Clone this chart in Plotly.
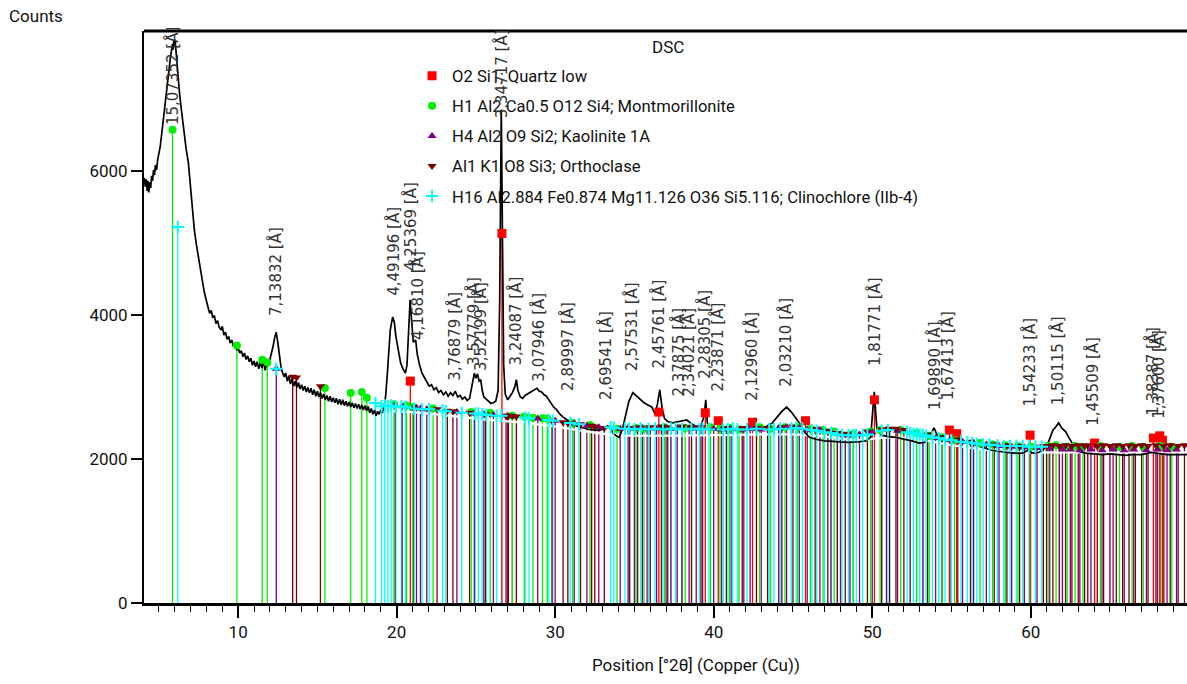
import plotly.graph_objects as go

# ---------------- measured diffractogram (2θ in degrees, counts) ----------------
scan_2theta = [
    4.08, 4.14, 4.20, 4.26, 4.31, 4.36, 4.42, 4.48, 4.54, 4.60, 4.66, 4.72, 4.78, 4.85, 4.92,
    5.00, 5.08, 5.16, 5.24, 5.32, 5.40, 5.48, 5.56, 5.64, 5.72, 5.80, 5.86, 5.90, 5.94, 5.98,
    6.02, 6.08, 6.14, 6.20, 6.30, 6.40, 6.50, 6.60, 6.72, 6.86, 7.00, 7.12, 7.24, 7.36, 7.48,
    7.60, 7.72, 7.85, 7.98, 8.11, 8.20, 8.30, 8.40, 8.50, 8.60, 8.70, 8.80, 8.93, 9.00, 9.10,
    9.20, 9.30, 9.40, 9.50, 9.60, 9.70, 9.80, 9.90, 10.0, 10.1, 10.2, 10.3, 10.4, 10.5, 10.6,
    10.7, 10.8, 10.9, 11.0, 11.1, 11.2, 11.3, 11.4, 11.5, 11.6, 11.7, 11.8, 11.9, 12.0, 12.1,
    12.2, 12.3, 12.4, 12.5, 12.6, 12.7, 12.8, 12.9, 13.0, 13.1, 13.2, 13.3, 13.4, 13.5, 13.6,
    13.7, 13.8, 13.9, 14.0, 14.1, 14.2, 14.3, 14.4, 14.5, 14.6, 14.7, 14.8, 14.9, 15.0, 15.1,
    15.2, 15.3, 15.4, 15.5, 15.6, 15.7, 15.8, 15.9, 16.0, 16.1, 16.2, 16.3, 16.4, 16.5, 16.6,
    16.7, 16.8, 16.9, 17.0, 17.1, 17.2, 17.3, 17.4, 17.5, 17.6, 17.7, 17.8, 17.9, 18.0, 18.1,
    18.2, 18.3, 18.4, 18.5, 18.6, 18.7, 18.8, 18.9, 19.0, 19.1, 19.2, 19.3, 19.4, 19.5, 19.6,
    19.75, 19.85, 19.95, 20.1, 20.25, 20.4, 20.55, 20.65, 20.75, 20.85, 20.95, 21.05, 21.2, 21.3, 21.45,
    21.6, 21.75, 21.9, 22.05, 22.2, 22.35, 22.5, 22.65, 22.8, 22.95, 23.1, 23.25, 23.4, 23.55, 23.7,
    23.85, 24.0, 24.15, 24.3, 24.45, 24.6, 24.7, 24.8, 24.9, 25.0, 25.1, 25.2, 25.3, 25.4, 25.5,
    25.65, 25.8, 25.95, 26.1, 26.25, 26.4, 26.5, 26.6, 26.68, 26.75, 26.85, 27.0, 27.15, 27.3, 27.45,
    27.55, 27.65, 27.8, 27.95, 28.1, 28.25, 28.4, 28.55, 28.7, 28.85, 29.0, 29.15, 29.3, 29.45, 29.6,
    29.75, 29.9, 30.1, 30.3, 30.5, 30.75, 31.0, 31.3, 31.6, 31.9, 32.2, 32.5, 32.8, 33.1, 33.3,
    33.46, 33.65, 33.85, 34.05, 34.25, 34.45, 34.65, 34.9, 35.1, 35.35, 35.6, 35.85, 36.1, 36.3, 36.45,
    36.6, 36.75, 36.9, 37.1, 37.4, 37.7, 38.0, 38.3, 38.6, 38.9, 39.2, 39.4, 39.5, 39.6, 39.8,
    40.1, 40.4, 40.8, 41.2, 41.6, 42.0, 42.45, 42.9, 43.3, 43.7, 44.0, 44.3, 44.6, 44.9, 45.2,
    45.4, 45.7, 46.04, 46.5, 47.0, 47.74, 48.5, 49.18, 49.6, 49.9, 50.05, 50.13, 50.22, 50.3, 50.6,
    51.0, 51.5, 52.0, 52.5, 52.96, 53.3, 53.6, 53.9, 54.1, 54.4, 54.6, 54.84, 55.1, 55.5, 55.9,
    56.5, 57.0, 57.5, 58.0, 58.5, 59.0, 59.5, 59.9, 60.06, 60.5, 60.9, 61.13, 61.4, 61.6, 61.76,
    61.95, 62.2, 62.4, 62.58, 62.8, 63.1, 63.46, 64.0, 64.5, 65.0, 65.5, 66.0, 66.35, 67.0, 67.6,
    68.1, 68.6, 69.2, 69.86,
]
scan_counts = [
    5900, 5780, 5880, 5720, 5860, 5700, 5840, 5760, 5930, 5860, 6010, 5940, 6080, 6010, 6150,
    6230, 6330, 6480, 6620, 6760, 6900, 7060, 7220, 7400, 7560, 7700, 7760, 7680, 7800, 7740,
    7820, 7660, 7480, 7260, 7080, 6880, 6680, 6480, 6300, 6110, 5760, 5440, 5170, 4980, 4810,
    4640, 4480, 4330, 4210, 4115, 4020, 4060, 3960, 3990, 3880, 3920, 3830, 3790, 3840, 3720,
    3760, 3660, 3700, 3610, 3650, 3560, 3600, 3510, 3540, 3470, 3500, 3420, 3470, 3380, 3430,
    3350, 3400, 3300, 3360, 3280, 3350, 3250, 3340, 3260, 3360, 3230, 3330, 3290, 3380, 3450,
    3560, 3680, 3760, 3620, 3420, 3280, 3200, 3140, 3190, 3080, 3150, 3040, 3110, 3010, 3080,
    2990, 3060, 2970, 3030, 2950, 3010, 2930, 2990, 2920, 2980, 2890, 2960, 2870, 2940, 2860,
    2920, 2840, 2900, 2820, 2880, 2800, 2870, 2790, 2850, 2780, 2840, 2760, 2830, 2750, 2820,
    2740, 2800, 2730, 2790, 2720, 2780, 2710, 2770, 2700, 2760, 2690, 2750, 2680, 2740, 2670,
    2730, 2640, 2700, 2620, 2680, 2600, 2660, 2620, 2680, 2640, 2720, 2860, 3150, 3500, 3800,
    3970, 3900, 3700, 3480, 3330, 3250, 3190, 3300, 3700, 4210, 3900, 3620, 3650, 3450, 3300,
    3190, 3130, 3060, 3010, 3030, 2960, 2990, 2920, 2950, 2890, 2930, 2870, 2920, 2880, 2940,
    2860, 2880, 2830, 2860, 2810, 2840, 2950, 3100, 3190, 3120, 3180, 3080, 3100, 2950, 2860,
    2830, 2800, 2770, 2780, 2800, 2950, 4200, 6850, 5200, 3300, 2900, 2820, 2870, 2920, 3000,
    3100, 2950, 2860, 2840, 2880, 2900, 2920, 2940, 2960, 2980, 2940, 2930, 2890, 2870, 2820,
    2760, 2720, 2680, 2620, 2580, 2540, 2500, 2460, 2440, 2420, 2410, 2400, 2400, 2420, 2460,
    2440, 2360, 2320, 2300, 2420, 2600, 2800, 2920, 2880, 2820, 2780, 2750, 2720, 2620, 2760,
    2960, 2700, 2560, 2520, 2500, 2510, 2530, 2540, 2490, 2450, 2460, 2600, 2820, 2500, 2440,
    2410, 2400, 2400, 2400, 2400, 2400, 2400, 2420, 2450, 2500, 2580, 2660, 2720, 2650, 2560,
    2500, 2380, 2300, 2270, 2250, 2240, 2230, 2240, 2250, 2300, 2700, 2930, 2650, 2400, 2330,
    2310, 2300, 2280, 2250, 2220, 2230, 2300, 2430, 2330, 2250, 2330, 2440, 2300, 2250, 2240,
    2200, 2160, 2120, 2100, 2090, 2080, 2080, 2130, 2080, 2090, 2150, 2240, 2400, 2450, 2500,
    2430, 2380, 2300, 2240, 2150, 2100, 2080, 2070, 2060, 2070, 2060, 2050, 2060, 2060, 2090,
    2080, 2060, 2060, 2060,
]

# fitted background curve (drawn white over the sticks)
bg_2theta = [18.9, 21.5, 25.0, 28.0, 30.0, 32.0, 34.0, 40.0, 45.0, 47.0, 49.0, 51.0, 53.0, 55.0, 58.0, 60.0, 62.0, 69.86]
bg_counts = [2670, 2640, 2560, 2500, 2450, 2380, 2330, 2330, 2340, 2310, 2260, 2300, 2270, 2190, 2110, 2090, 2090, 2090]

# ---------------- reference patterns: (2θ, stick top in counts) ----------------
quartz = [(20.86, 3080), (26.64, 5130), (36.54, 2650), (39.47, 2640), (40.29, 2530), (42.45, 2510),
          (45.79, 2530), (50.14, 2820), (54.87, 2400), (55.33, 2350), (59.96, 2330), (64.03, 2220),
          (67.74, 2290), (68.14, 2320), (68.31, 2260)]

montmorillonite = [(5.86, 6570), (9.92, 3575), (11.52, 3375), (11.84, 3340), (15.47, 2985), (17.10, 2915),
                   (17.80, 2930), (18.12, 2850), (19.83, 2760), (20.62, 2740), (21.02, 2720), (22.30, 2700),
                   (24.70, 2650), (25.90, 2640), (27.30, 2600), (28.05, 2590), (28.60, 2570), (29.20, 2565),
                   (29.50, 2560), (31.10, 2500), (32.20, 2470), (33.90, 2420), (35.10, 2430), (35.60, 2420),
                   (36.90, 2440), (38.20, 2430), (39.80, 2440), (40.40, 2420), (41.00, 2430), (41.60, 2410),
                   (42.90, 2440), (43.60, 2420), (44.50, 2440), (45.30, 2440), (46.10, 2420), (46.90, 2400),
                   (47.60, 2380), (48.80, 2350), (49.90, 2380), (50.50, 2400), (51.80, 2400), (52.80, 2360),
                   (53.60, 2320), (54.40, 2300), (55.20, 2260), (56.80, 2220), (57.60, 2200), (58.40, 2190),
                   (59.20, 2180), (60.00, 2170), (61.10, 2180), (61.60, 2190), (62.30, 2170), (62.80, 2180),
                   (63.30, 2170), (64.40, 2180), (65.60, 2170), (66.40, 2180), (67.10, 2170), (68.20, 2180),
                   (68.90, 2170)]

kaolinite = [(12.41, 3250), (19.90, 2740), (20.35, 2730), (21.25, 2710), (21.50, 2700), (21.90, 2690),
             (23.80, 2650), (24.90, 2630), (25.50, 2620), (26.10, 2610), (27.00, 2600), (28.90, 2560),
             (30.00, 2530), (31.20, 2490), (32.00, 2460), (32.75, 2440), (34.10, 2420), (34.60, 2430),
             (35.00, 2420), (35.50, 2430), (35.80, 2420), (36.40, 2420), (37.00, 2430), (37.30, 2420),
             (37.70, 2430), (38.45, 2430), (38.90, 2420), (39.30, 2430), (40.00, 2420), (40.50, 2410),
             (41.10, 2420), (41.90, 2410), (42.30, 2420), (43.00, 2410), (44.10, 2430), (44.60, 2440),
             (45.40, 2430), (45.90, 2410), (46.70, 2400), (47.40, 2370), (48.00, 2340), (48.60, 2330),
             (49.20, 2340), (50.00, 2370), (50.90, 2400), (51.60, 2390), (52.40, 2360), (53.20, 2330),
             (54.00, 2290), (54.90, 2260), (55.70, 2240), (56.40, 2220), (57.20, 2200), (58.00, 2180),
             (58.80, 2170), (59.60, 2160), (60.40, 2150), (61.20, 2140), (62.00, 2130), (62.50, 2130),
             (63.10, 2120), (63.80, 2130), (64.50, 2120), (65.20, 2130), (65.90, 2120), (66.50, 2130),
             (67.30, 2120), (68.00, 2130), (68.60, 2120), (69.20, 2130)]

orthoclase = [(13.44, 3140), (13.68, 3130), (15.19, 3010), (21.05, 2710), (22.55, 2690), (23.20, 2670),
              (23.55, 2660), (24.60, 2640), (25.60, 2620), (26.90, 2600), (27.05, 2600), (27.30, 2595),
              (27.55, 2590), (29.80, 2530), (30.50, 2510), (30.80, 2500), (31.60, 2480), (32.30, 2460),
              (32.50, 2450), (33.10, 2430), (34.70, 2430), (35.20, 2440), (36.00, 2440), (36.70, 2450),
              (37.10, 2440), (38.00, 2450), (38.60, 2440), (39.20, 2440), (40.80, 2430), (41.80, 2430),
              (42.70, 2430), (43.40, 2430), (44.30, 2440), (45.00, 2450), (46.40, 2420), (47.20, 2390),
              (47.80, 2360), (48.30, 2350), (49.70, 2380), (50.60, 2410), (51.10, 2420), (51.50, 2420),
              (52.00, 2400), (53.50, 2340), (54.40, 2300), (55.40, 2270), (56.20, 2240), (57.70, 2200),
              (58.50, 2190), (59.30, 2180), (60.80, 2180), (61.00, 2180), (61.40, 2190), (61.80, 2180),
              (62.20, 2190), (62.60, 2180), (63.00, 2190), (63.40, 2180), (63.60, 2190), (64.20, 2180),
              (64.60, 2190), (65.00, 2180), (65.40, 2190), (65.80, 2180), (66.20, 2190), (66.60, 2180),
              (67.00, 2190), (67.40, 2180), (67.90, 2190), (68.40, 2180), (68.80, 2190), (69.30, 2180),
              (69.70, 2190)]

clinochlore = [(6.19, 5220), (12.41, 3250), (18.66, 2775), (19.05, 2730), (19.25, 2740), (19.45, 2730),
               (19.65, 2740), (19.95, 2720), (20.30, 2730), (20.55, 2720), (21.10, 2700), (21.60, 2690),
               (22.05, 2690), (22.90, 2670), (23.10, 2660), (24.10, 2640), (24.95, 2630), (25.15, 2630),
               (25.40, 2620), (25.65, 2610), (26.30, 2600), (26.60, 2600), (28.10, 2570), (28.35, 2560),
               (29.60, 2540), (29.85, 2530), (30.95, 2500), (31.50, 2480), (33.50, 2440), (33.70, 2430),
               (34.40, 2420), (34.65, 2420), (35.00, 2410), (35.40, 2420), (35.90, 2410), (36.30, 2420),
               (36.80, 2410), (37.30, 2420), (37.60, 2420), (38.00, 2410), (38.60, 2420), (39.10, 2410),
               (39.30, 2420), (39.70, 2410), (40.60, 2410), (40.90, 2410), (41.20, 2420), (41.50, 2410),
               (42.10, 2410), (42.70, 2420), (43.50, 2410), (43.80, 2410), (44.20, 2420), (44.90, 2420),
               (45.20, 2430), (45.60, 2420), (46.20, 2400), (46.50, 2390), (47.00, 2370), (47.40, 2360),
               (47.80, 2340), (48.10, 2330), (48.50, 2330), (48.80, 2330), (49.00, 2330), (49.40, 2330),
               (49.70, 2340), (50.60, 2390), (51.00, 2400), (52.20, 2370), (52.40, 2360), (52.60, 2350),
               (52.80, 2350), (53.00, 2340), (53.20, 2330), (53.40, 2320), (53.80, 2300), (54.20, 2290),
               (54.60, 2270), (55.00, 2260), (55.60, 2240), (56.00, 2230), (56.30, 2220), (56.60, 2210),
               (57.00, 2200), (57.40, 2200), (57.90, 2190), (58.30, 2180), (58.70, 2180), (59.10, 2180),
               (59.50, 2180), (59.90, 2170), (60.30, 2170), (60.70, 2170)]

phase_names = [
    "O2 Si1; Quartz low",
    "H1 Al2 Ca0.5 O12 Si4; Montmorillonite",
    "H4 Al2 O9 Si2; Kaolinite 1A",
    "Al1 K1 O8 Si3; Orthoclase",
    "H16 Al2.884 Fe0.874 Mg11.126 O36 Si5.116; Clinochlore (IIb-4)",
]

# ---------------- peak labels: d-spacing text, 2θ position, label base (counts) ----------------
peak_d = ["15,07352", "7,13832", "4,49196", "4,25369", "4,16810", "3,76879", "3,57779", "3,52199",
          "3,34717", "3,24087", "3,07946", "2,89997", "2,69541", "2,57531", "2,45761", "2,37875",
          "2,34021", "2,28305", "2,23871", "2,12960", "2,03210", "1,81771", "1,69890", "1,67413",
          "1,54233", "1,50115", "1,45509", "1,38387", "1,37600"]
peak_2theta = [5.86, 12.39, 19.75, 20.87, 21.30, 23.59, 24.87, 25.27, 26.61, 27.50, 28.97, 30.81,
               33.21, 34.81, 36.53, 37.79, 38.43, 39.44, 40.25, 42.41, 44.55, 50.14, 53.93, 54.79,
               59.93, 61.74, 63.93, 67.64, 68.09]
label_base = [6600, 3950, 4240, 4580, 3620, 3060, 3270, 3190, 6700, 3270, 3050, 2910,
              2785, 3190, 3230, 2840, 2840, 3090, 2910, 2785, 2980, 3260, 2650, 2785,
              2700, 2715, 2425, 2575, 2535]

# ---------------- styles ----------------
colors = ["#FF0000", "#00F000", "#800080", "#7A0000", "#00FFFF"]
symbols = ["square", "circle", "triangle-up", "triangle-down", "cross-thin"]
UI_FONT = "Roboto, Open Sans, sans-serif"

fig = go.Figure()

phases = [quartz, montmorillonite, kaolinite, orthoclase, clinochlore]
draw_order = [4, 3, 2, 1, 0]

# sticks
for i in draw_order:
    xs, ys = [], []
    for p, h in phases[i]:
        xs += [p, p, None]
        ys += [0, h, None]
    fig.add_trace(go.Scatter(x=xs, y=ys, mode="lines", line=dict(color=colors[i], width=1.3),
                             showlegend=False, hoverinfo="skip"))

# white background curve
fig.add_trace(go.Scatter(x=bg_2theta, y=bg_counts, mode="lines", line=dict(color="white", width=2.2, shape="spline"),
                         showlegend=False, hoverinfo="skip"))

# black measured curve
fig.add_trace(go.Scatter(x=scan_2theta, y=scan_counts, mode="lines", line=dict(color="black", width=1.7),
                         showlegend=False))

# markers at stick tops (also the legend entries)
for i in range(5):
    xs = [p for p, h in phases[i]]
    ys = [h for p, h in phases[i]]
    if symbols[i] == "cross-thin":
        mk = dict(symbol="cross-thin", size=9, line=dict(color=colors[i], width=2), color=colors[i])
    else:
        mk = dict(symbol=symbols[i], size=8 if i != 0 else 9, color=colors[i], line=dict(width=0))
    fig.add_trace(go.Scatter(x=xs, y=ys, mode="markers", marker=mk, name=phase_names[i],
                             legendgroup="g%d" % i, legendrank=i + 1))

# peak labels
for d, t, b in zip(peak_d, peak_2theta, label_base):
    fig.add_annotation(x=t, y=b, text=d + " [Å]", textangle=-90, showarrow=False,
                       xanchor="center", yanchor="bottom",
                       font=dict(family="DejaVu Sans", size=15, color="#333333"))

# DSC title, Counts, x title
fig.add_annotation(x=0.5026, y=0.972, xref="paper", yref="paper", text="DSC", showarrow=False,
                   xanchor="center", yanchor="middle", font=dict(family=UI_FONT, size=17, color="#111"))
fig.add_annotation(x=-0.131, y=1.027, xref="paper", yref="paper", text="Counts", showarrow=False,
                   xanchor="left", yanchor="middle", font=dict(family=UI_FONT, size=17, color="#111"))
fig.add_annotation(x=0.529, y=-0.108, xref="paper", yref="paper", text="Position [°2θ] (Copper (Cu))",
                   showarrow=False, xanchor="center", yanchor="middle",
                   font=dict(family=UI_FONT, size=17, color="#111"))

# top frame line
fig.add_shape(type="line", xref="paper", yref="paper", x0=0, x1=1, y0=1, y1=1,
              line=dict(color="black", width=3))

fig.update_layout(
    width=1187, height=684,
    margin=dict(l=144, r=0, t=31, b=81),
    paper_bgcolor="white", plot_bgcolor="white",
    showlegend=True,
    legend=dict(x=0.257, y=0.952, xanchor="left", yanchor="top", bgcolor="rgba(0,0,0,0)",
                font=dict(family=UI_FONT, size=16.6, color="#111"), tracegroupgap=5.5,
                itemclick=False, itemdoubleclick=False),
    xaxis=dict(range=[4.06, 69.86], showgrid=False, zeroline=False, showline=True, linecolor="black",
               linewidth=3, ticks="outside", ticklen=12, tickwidth=1.5, tickcolor="black",
               tickvals=[10, 20, 30, 40, 50, 60], tickfont=dict(family=UI_FONT, size=17, color="#111"),
               minor=dict(dtick=1, tick0=0, ticks="outside", ticklen=6, tickwidth=1.3, tickcolor="black")),
    yaxis=dict(range=[0, 7940], showgrid=False, zeroline=False, showline=True, linecolor="black",
               linewidth=2, ticks="outside", ticklen=11, tickwidth=1.5, tickcolor="black",
               tickvals=[0, 2000, 4000, 6000], tickfont=dict(family=UI_FONT, size=17, color="#111")),
)

fig.write_html("out.html")
